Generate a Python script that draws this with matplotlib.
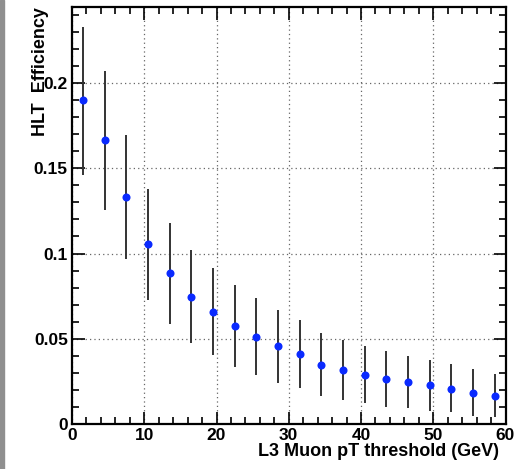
import numpy as np
import matplotlib.pyplot as plt
from matplotlib.patches import Rectangle
from matplotlib.ticker import MultipleLocator

plt.rcParams['font.family'] = ['Liberation Sans', 'DejaVu Sans']

# threshold bins (GeV) and efficiency with asymmetric errors
pt = [1.5, 4.5, 7.5, 10.5, 13.5, 16.5, 19.5, 22.5, 25.5, 28.5,
      31.5, 34.5, 37.5, 40.5, 43.5, 46.5, 49.5, 52.5, 55.5, 58.5]
eff = [0.190, 0.1666, 0.1331, 0.1056, 0.0884, 0.0745, 0.0659, 0.0577, 0.0510, 0.0456,
       0.0411, 0.0346, 0.0318, 0.0289, 0.0266, 0.0246, 0.0229, 0.0205, 0.0182, 0.0164]
eff_hi = [0.2328, 0.207, 0.1695, 0.1378, 0.1179, 0.1021, 0.0913, 0.0815, 0.0737, 0.0669,
          0.0610, 0.0532, 0.0493, 0.0457, 0.0430, 0.0399, 0.0375, 0.0352, 0.0323, 0.0293]
eff_lo = [0.146, 0.1255, 0.0968, 0.0727, 0.0585, 0.0473, 0.0405, 0.0336, 0.0287, 0.0242,
          0.0209, 0.0162, 0.0141, 0.0121, 0.0101, 0.0094, 0.0076, 0.0070, 0.0047, 0.0041]

eff = np.array(eff)
yerr = np.vstack((eff - np.array(eff_lo), np.array(eff_hi) - eff))

fig = plt.figure(figsize=(5.29, 4.69), dpi=100)
fig.patches.append(Rectangle((0, 0), 4/529, 1, transform=fig.transFigure,
                             color='#8f8f8f', zorder=0))
ax = fig.add_axes([72/529, 45/469, 433.5/529, 417/469])

ax.errorbar(pt, eff, yerr=yerr, fmt='none', ecolor='#333333', elinewidth=1.4, capsize=0)
ax.plot(pt, eff, 'o', color='#0a2aff', markersize=5.8, markeredgewidth=0)

ax.set_xlim(0, 60)
ax.set_ylim(0, 0.2446)
ax.xaxis.set_major_locator(MultipleLocator(10))
ax.xaxis.set_minor_locator(MultipleLocator(2))
ax.yaxis.set_major_locator(MultipleLocator(0.05))
ax.yaxis.set_minor_locator(MultipleLocator(0.01))
ax.set_xticks([0, 10, 20, 30, 40, 50, 60])
ax.set_xticklabels(['0', '10', '20', '30', '40', '50', '60'])
ax.set_yticks([0, 0.05, 0.1, 0.15, 0.2])
ax.set_yticklabels(['0', '0.05', '0.1', '0.15', '0.2'])

ax.tick_params(which='both', direction='in', top=True, right=True, width=1.2,
               labelsize=12.5, pad=3)
ax.tick_params(which='major', length=9)
ax.tick_params(which='minor', length=5)
for lab in ax.get_xticklabels() + ax.get_yticklabels():
    lab.set_fontweight('bold')
for s in ax.spines.values():
    s.set_linewidth(1.6)

ax.grid(which='major', linestyle=(0, (1, 2.5)), color='#666666', linewidth=0.9)

ax.set_xlabel('L3 Muon pT threshold (GeV)', fontsize=13, fontweight='bold', ha='right')
ax.xaxis.set_label_coords(0.985, -0.045)
ax.set_ylabel('HLT  Efficiency', fontsize=13, fontweight='bold', ha='right')
ax.yaxis.set_label_coords(-0.054, 1.0)

fig.savefig('out.png', dpi=100)
